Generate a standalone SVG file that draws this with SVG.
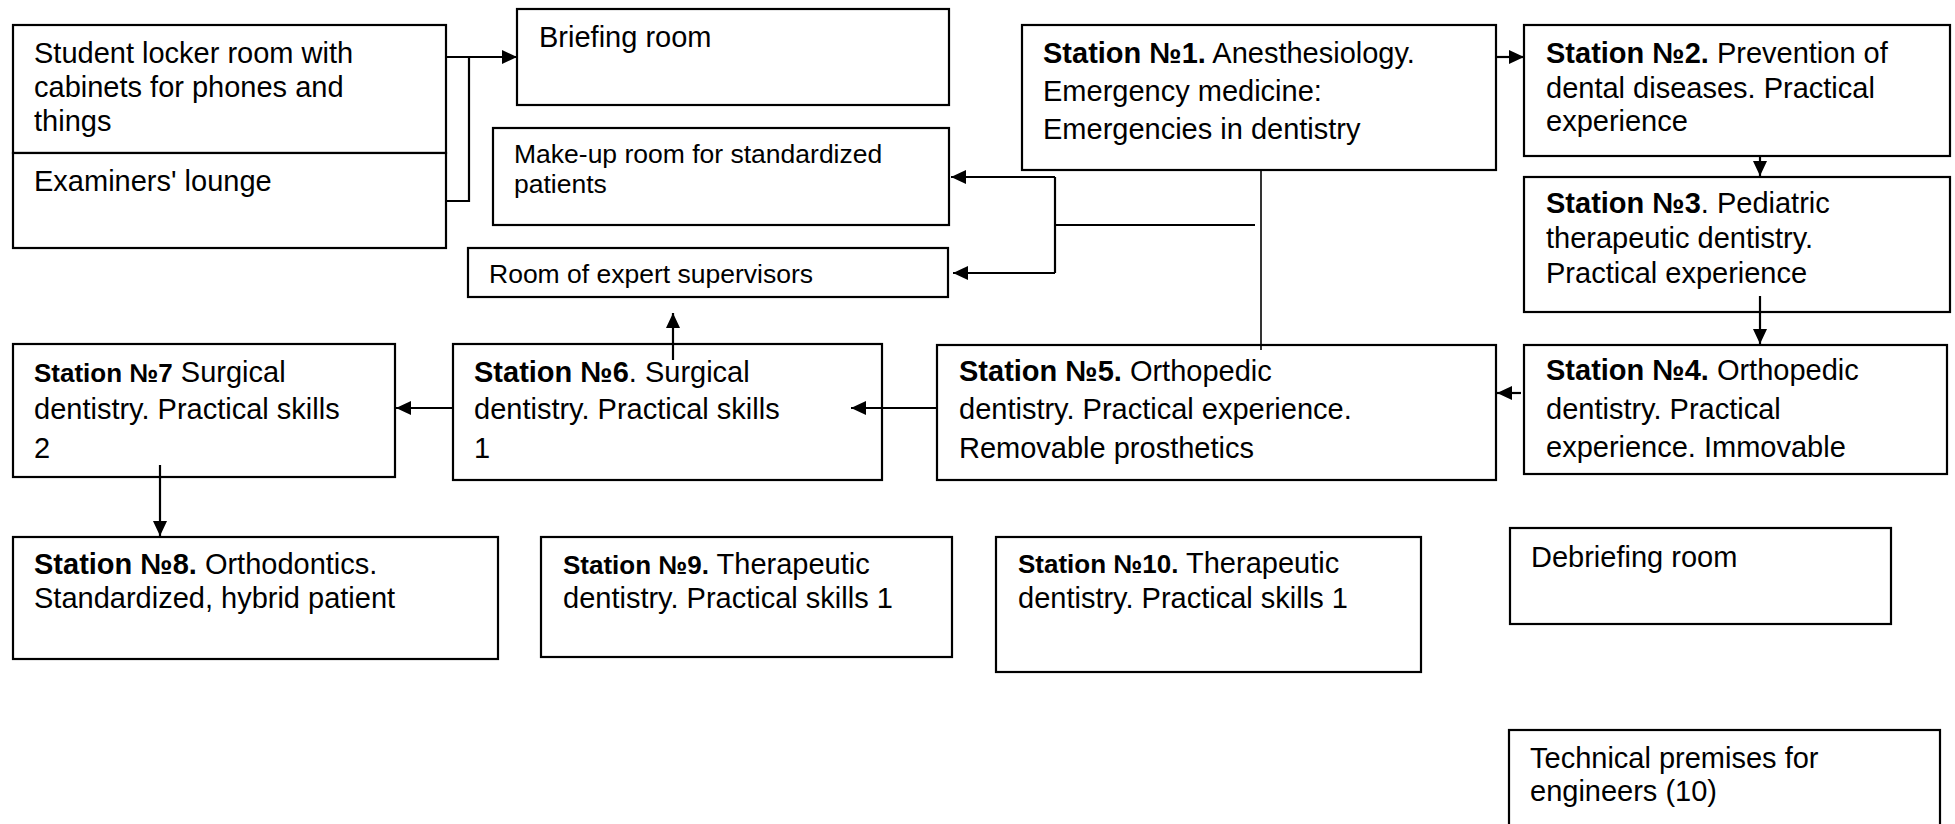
<svg xmlns="http://www.w3.org/2000/svg" width="1955" height="824" viewBox="0 0 1955 824">
<style>
.box{fill:#fff;stroke:#000;stroke-width:2.2}
.t{font-family:"Liberation Sans",Arial,sans-serif;font-size:29px;fill:#000}
.s{font-size:26.5px}
.b{font-weight:bold}
.bs{font-weight:bold;font-size:26px}
.c{fill:none;stroke:#000;stroke-width:2.2}
.thin{fill:none;stroke:#000;stroke-width:1.6}
</style>
<defs>
<marker id="ah" markerUnits="userSpaceOnUse" markerWidth="16" markerHeight="14" refX="15" refY="7" orient="auto">
<path d="M0,0 L15,7 L0,14 z" fill="#000"/>
</marker>
</defs>
<rect width="1955" height="824" fill="#fff"/>

<g id="locker">
<rect class="box" x="13" y="25" width="433" height="128"/>
<text class="t" x="34" y="63">Student locker room with</text>
<text class="t" x="34" y="97">cabinets for phones and</text>
<text class="t" x="34" y="131">things</text>
</g>
<g id="examiners">
<rect class="box" x="13" y="153" width="433" height="95"/>
<text class="t" x="34" y="191">Examiners' lounge</text>
</g>
<g id="briefing">
<rect class="box" x="517" y="9" width="432" height="96"/>
<text class="t" x="539" y="47">Briefing room</text>
</g>
<g id="makeup">
<rect class="box" x="493" y="128" width="456" height="97"/>
<text class="t s" x="514" y="163">Make-up room for standardized</text>
<text class="t s" x="514" y="193">patients</text>
</g>
<g id="expert">
<rect class="box" x="468" y="248" width="480" height="49"/>
<text class="t s" x="489" y="283">Room of expert supervisors</text>
</g>
<g id="station1">
<rect class="box" x="1022" y="25" width="474" height="145"/>
<text class="t" x="1043" y="63"><tspan class="b">Station №1.</tspan> Anesthesiology.</text>
<text class="t" x="1043" y="101">Emergency medicine:</text>
<text class="t" x="1043" y="139">Emergencies in dentistry</text>
</g>
<g id="station2">
<rect class="box" x="1524" y="25" width="426" height="131"/>
<text class="t" x="1546" y="63"><tspan class="b">Station №2.</tspan> Prevention of</text>
<text class="t" x="1546" y="98">dental diseases. Practical</text>
<text class="t" x="1546" y="131">experience</text>
</g>
<g id="station3">
<rect class="box" x="1524" y="177" width="426" height="135"/>
<text class="t" x="1546" y="213"><tspan class="b">Station №3</tspan>. Pediatric</text>
<text class="t" x="1546" y="248">therapeutic dentistry.</text>
<text class="t" x="1546" y="283">Practical experience</text>
</g>
<g id="station4">
<rect class="box" x="1524" y="345" width="423" height="129"/>
<text class="t" x="1546" y="380"><tspan class="b">Station №4.</tspan> Orthopedic</text>
<text class="t" x="1546" y="419">dentistry. Practical</text>
<text class="t" x="1546" y="457">experience. Immovable</text>
</g>
<g id="station5">
<rect class="box" x="937" y="345" width="559" height="135"/>
<text class="t" x="959" y="381"><tspan class="b">Station №5.</tspan> Orthopedic</text>
<text class="t" x="959" y="419">dentistry. Practical experience.</text>
<text class="t" x="959" y="458">Removable prosthetics</text>
</g>
<g id="station6">
<rect class="box" x="453" y="344" width="429" height="136"/>
<text class="t" x="474" y="382"><tspan class="b">Station №6</tspan>. Surgical</text>
<text class="t" x="474" y="419">dentistry. Practical skills</text>
<text class="t" x="474" y="458">1</text>
</g>
<g id="station7">
<rect class="box" x="13" y="344" width="382" height="133"/>
<text class="t" x="34" y="382"><tspan class="bs">Station №7</tspan> Surgical</text>
<text class="t" x="34" y="419">dentistry. Practical skills</text>
<text class="t" x="34" y="458">2</text>
</g>
<g id="station8">
<rect class="box" x="13" y="537" width="485" height="122"/>
<text class="t" x="34" y="574"><tspan class="b">Station №8.</tspan> Orthodontics.</text>
<text class="t" x="34" y="608">Standardized, hybrid patient</text>
</g>
<g id="station9">
<rect class="box" x="541" y="537" width="411" height="120"/>
<text class="t" x="563" y="574"><tspan class="bs">Station №9.</tspan> Therapeutic</text>
<text class="t" x="563" y="608">dentistry. Practical skills 1</text>
</g>
<g id="station10">
<rect class="box" x="996" y="537" width="425" height="135"/>
<text class="t" x="1018" y="573"><tspan class="bs">Station №10.</tspan> Therapeutic</text>
<text class="t" x="1018" y="608">dentistry. Practical skills 1</text>
</g>
<g id="debriefing">
<rect class="box" x="1510" y="528" width="381" height="96"/>
<text class="t" x="1531" y="567">Debriefing room</text>
</g>
<g id="technical">
<rect class="box" x="1509" y="730" width="431" height="110"/>
<text class="t" x="1530" y="768">Technical premises for</text>
<text class="t" x="1530" y="801">engineers (10)</text>
</g>

<g id="connectors">
<path class="c" d="M446,57 H517" marker-end="url(#ah)"/>
<path class="c" d="M446,201 H469 V57"/>
<path class="thin" d="M1261,170 V350"/>
<path class="c" d="M1255,225 H1055"/>
<path class="c" d="M1055,177 V273"/>
<path class="c" d="M1055,177 H951" marker-end="url(#ah)"/>
<path class="c" d="M1055,273 H953" marker-end="url(#ah)"/>
<path class="c" d="M1496,57 H1524" marker-end="url(#ah)"/>
<path class="c" d="M1760,156 V176" marker-end="url(#ah)"/>
<path class="c" d="M1760,296 V344" marker-end="url(#ah)"/>
<path class="c" d="M1521,393 H1497" marker-end="url(#ah)"/>
<path class="c" d="M937,408 H851" marker-end="url(#ah)"/>
<path class="c" d="M453,408 H396" marker-end="url(#ah)"/>
<path class="c" d="M673,360 V313" marker-end="url(#ah)"/>
<path class="c" d="M160,465 V536" marker-end="url(#ah)"/>
</g>
</svg>
